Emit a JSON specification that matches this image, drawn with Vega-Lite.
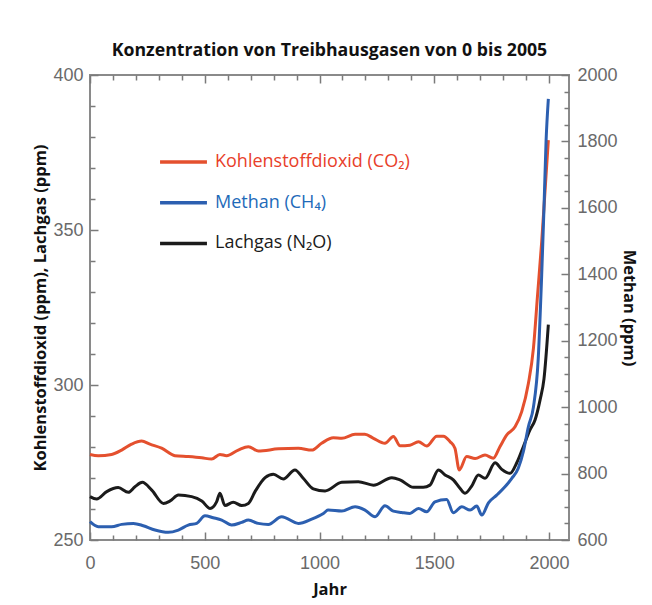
{
  "$schema": "https://vega.github.io/schema/vega-lite/v6.json",
  "width": 479,
  "height": 465,
  "autosize": {"type": "none"},
  "padding": {"left": 90, "top": 75, "right": 83, "bottom": 65},
  "background": "white",
  "title": {"text": "Konzentration von Treibhausgasen von 0 bis 2005", "font": "Open Sans", "fontSize": 17.7, "fontWeight": "bold", "color": "#111111", "anchor": "middle", "offset": 6},
  "config": {
    "view": {"stroke": "#8a8a8a", "strokeWidth": 2},
    "axis": {"domain": false, "grid": false, "format": "d", "labelFont": "Liberation Sans", "labelFontSize": 18, "labelColor": "#6a6a6a", "tickColor": "#7a7a7a", "tickWidth": 1.5, "titleFont": "Open Sans", "titleFontWeight": "bold", "titleFontSize": 16.5, "titleColor": "#111111", "labelOverlap": false}
  },
  "datasets": {
    "gases": [
      {"gas": "Kohlenstoffdioxid (CO₂)", "year": 0, "value": 277.6},
      {"gas": "Kohlenstoffdioxid (CO₂)", "year": 36, "value": 277.2},
      {"gas": "Kohlenstoffdioxid (CO₂)", "year": 94, "value": 277.6},
      {"gas": "Kohlenstoffdioxid (CO₂)", "year": 138, "value": 279.0},
      {"gas": "Kohlenstoffdioxid (CO₂)", "year": 181, "value": 280.9},
      {"gas": "Kohlenstoffdioxid (CO₂)", "year": 225, "value": 281.9},
      {"gas": "Kohlenstoffdioxid (CO₂)", "year": 261, "value": 280.9},
      {"gas": "Kohlenstoffdioxid (CO₂)", "year": 312, "value": 279.6},
      {"gas": "Kohlenstoffdioxid (CO₂)", "year": 370, "value": 277.2},
      {"gas": "Kohlenstoffdioxid (CO₂)", "year": 428, "value": 276.9},
      {"gas": "Kohlenstoffdioxid (CO₂)", "year": 487, "value": 276.5},
      {"gas": "Kohlenstoffdioxid (CO₂)", "year": 530, "value": 276.1},
      {"gas": "Kohlenstoffdioxid (CO₂)", "year": 566, "value": 277.6},
      {"gas": "Kohlenstoffdioxid (CO₂)", "year": 595, "value": 277.2},
      {"gas": "Kohlenstoffdioxid (CO₂)", "year": 646, "value": 279.0},
      {"gas": "Kohlenstoffdioxid (CO₂)", "year": 690, "value": 280.1},
      {"gas": "Kohlenstoffdioxid (CO₂)", "year": 733, "value": 278.7},
      {"gas": "Kohlenstoffdioxid (CO₂)", "year": 821, "value": 279.4},
      {"gas": "Kohlenstoffdioxid (CO₂)", "year": 908, "value": 279.6},
      {"gas": "Kohlenstoffdioxid (CO₂)", "year": 966, "value": 279.0},
      {"gas": "Kohlenstoffdioxid (CO₂)", "year": 1009, "value": 281.2},
      {"gas": "Kohlenstoffdioxid (CO₂)", "year": 1060, "value": 283.0},
      {"gas": "Kohlenstoffdioxid (CO₂)", "year": 1097, "value": 282.8},
      {"gas": "Kohlenstoffdioxid (CO₂)", "year": 1155, "value": 284.1},
      {"gas": "Kohlenstoffdioxid (CO₂)", "year": 1198, "value": 284.1},
      {"gas": "Kohlenstoffdioxid (CO₂)", "year": 1235, "value": 282.8},
      {"gas": "Kohlenstoffdioxid (CO₂)", "year": 1285, "value": 281.2},
      {"gas": "Kohlenstoffdioxid (CO₂)", "year": 1322, "value": 283.4},
      {"gas": "Kohlenstoffdioxid (CO₂)", "year": 1351, "value": 280.4},
      {"gas": "Kohlenstoffdioxid (CO₂)", "year": 1394, "value": 280.6},
      {"gas": "Kohlenstoffdioxid (CO₂)", "year": 1431, "value": 281.7},
      {"gas": "Kohlenstoffdioxid (CO₂)", "year": 1467, "value": 280.3},
      {"gas": "Kohlenstoffdioxid (CO₂)", "year": 1511, "value": 283.5},
      {"gas": "Kohlenstoffdioxid (CO₂)", "year": 1540, "value": 283.5},
      {"gas": "Kohlenstoffdioxid (CO₂)", "year": 1569, "value": 281.7},
      {"gas": "Kohlenstoffdioxid (CO₂)", "year": 1590, "value": 279.6},
      {"gas": "Kohlenstoffdioxid (CO₂)", "year": 1609, "value": 272.6},
      {"gas": "Kohlenstoffdioxid (CO₂)", "year": 1641, "value": 276.9},
      {"gas": "Kohlenstoffdioxid (CO₂)", "year": 1678, "value": 276.3},
      {"gas": "Kohlenstoffdioxid (CO₂)", "year": 1721, "value": 277.4},
      {"gas": "Kohlenstoffdioxid (CO₂)", "year": 1757, "value": 276.4},
      {"gas": "Kohlenstoffdioxid (CO₂)", "year": 1786, "value": 280.1},
      {"gas": "Kohlenstoffdioxid (CO₂)", "year": 1816, "value": 283.9},
      {"gas": "Kohlenstoffdioxid (CO₂)", "year": 1852, "value": 286.5},
      {"gas": "Kohlenstoffdioxid (CO₂)", "year": 1881, "value": 291.4},
      {"gas": "Kohlenstoffdioxid (CO₂)", "year": 1910, "value": 300.5},
      {"gas": "Kohlenstoffdioxid (CO₂)", "year": 1932, "value": 311.8},
      {"gas": "Kohlenstoffdioxid (CO₂)", "year": 1950, "value": 329.0},
      {"gas": "Kohlenstoffdioxid (CO₂)", "year": 1968, "value": 346.2},
      {"gas": "Kohlenstoffdioxid (CO₂)", "year": 1987, "value": 367.7},
      {"gas": "Kohlenstoffdioxid (CO₂)", "year": 1997, "value": 379.0},
      {"gas": "Lachgas (N₂O)", "year": 0, "value": 264.0},
      {"gas": "Lachgas (N₂O)", "year": 29, "value": 263.2},
      {"gas": "Lachgas (N₂O)", "year": 73, "value": 265.6},
      {"gas": "Lachgas (N₂O)", "year": 123, "value": 266.9},
      {"gas": "Lachgas (N₂O)", "year": 167, "value": 265.4},
      {"gas": "Lachgas (N₂O)", "year": 196, "value": 267.2},
      {"gas": "Lachgas (N₂O)", "year": 228, "value": 268.6},
      {"gas": "Lachgas (N₂O)", "year": 269, "value": 266.1},
      {"gas": "Lachgas (N₂O)", "year": 320, "value": 261.8},
      {"gas": "Lachgas (N₂O)", "year": 349, "value": 262.6},
      {"gas": "Lachgas (N₂O)", "year": 385, "value": 264.5},
      {"gas": "Lachgas (N₂O)", "year": 443, "value": 264.0},
      {"gas": "Lachgas (N₂O)", "year": 487, "value": 262.6},
      {"gas": "Lachgas (N₂O)", "year": 523, "value": 260.2},
      {"gas": "Lachgas (N₂O)", "year": 552, "value": 262.4},
      {"gas": "Lachgas (N₂O)", "year": 566, "value": 265.1},
      {"gas": "Lachgas (N₂O)", "year": 588, "value": 261.1},
      {"gas": "Lachgas (N₂O)", "year": 624, "value": 262.2},
      {"gas": "Lachgas (N₂O)", "year": 661, "value": 261.1},
      {"gas": "Lachgas (N₂O)", "year": 690, "value": 261.8},
      {"gas": "Lachgas (N₂O)", "year": 719, "value": 265.6},
      {"gas": "Lachgas (N₂O)", "year": 763, "value": 270.1},
      {"gas": "Lachgas (N₂O)", "year": 799, "value": 271.2},
      {"gas": "Lachgas (N₂O)", "year": 842, "value": 269.7},
      {"gas": "Lachgas (N₂O)", "year": 893, "value": 272.6},
      {"gas": "Lachgas (N₂O)", "year": 929, "value": 269.9},
      {"gas": "Lachgas (N₂O)", "year": 973, "value": 266.5},
      {"gas": "Lachgas (N₂O)", "year": 1024, "value": 265.8},
      {"gas": "Lachgas (N₂O)", "year": 1097, "value": 268.6},
      {"gas": "Lachgas (N₂O)", "year": 1169, "value": 268.8},
      {"gas": "Lachgas (N₂O)", "year": 1235, "value": 267.7},
      {"gas": "Lachgas (N₂O)", "year": 1315, "value": 270.1},
      {"gas": "Lachgas (N₂O)", "year": 1351, "value": 269.4},
      {"gas": "Lachgas (N₂O)", "year": 1409, "value": 267.0},
      {"gas": "Lachgas (N₂O)", "year": 1452, "value": 267.0},
      {"gas": "Lachgas (N₂O)", "year": 1481, "value": 267.7},
      {"gas": "Lachgas (N₂O)", "year": 1518, "value": 272.6},
      {"gas": "Lachgas (N₂O)", "year": 1547, "value": 271.0},
      {"gas": "Lachgas (N₂O)", "year": 1583, "value": 269.4},
      {"gas": "Lachgas (N₂O)", "year": 1612, "value": 266.7},
      {"gas": "Lachgas (N₂O)", "year": 1634, "value": 265.1},
      {"gas": "Lachgas (N₂O)", "year": 1663, "value": 267.4},
      {"gas": "Lachgas (N₂O)", "year": 1692, "value": 271.0},
      {"gas": "Lachgas (N₂O)", "year": 1721, "value": 269.9},
      {"gas": "Lachgas (N₂O)", "year": 1765, "value": 274.9},
      {"gas": "Lachgas (N₂O)", "year": 1794, "value": 272.8},
      {"gas": "Lachgas (N₂O)", "year": 1830, "value": 271.5},
      {"gas": "Lachgas (N₂O)", "year": 1860, "value": 275.0},
      {"gas": "Lachgas (N₂O)", "year": 1888, "value": 280.1},
      {"gas": "Lachgas (N₂O)", "year": 1917, "value": 285.5},
      {"gas": "Lachgas (N₂O)", "year": 1939, "value": 288.7},
      {"gas": "Lachgas (N₂O)", "year": 1961, "value": 295.2},
      {"gas": "Lachgas (N₂O)", "year": 1978, "value": 302.0},
      {"gas": "Lachgas (N₂O)", "year": 1997, "value": 319.5},
      {"gas": "Methan (CH₄)", "year": 0, "value": 655},
      {"gas": "Methan (CH₄)", "year": 36, "value": 640},
      {"gas": "Methan (CH₄)", "year": 94, "value": 640},
      {"gas": "Methan (CH₄)", "year": 138, "value": 647},
      {"gas": "Methan (CH₄)", "year": 189, "value": 650},
      {"gas": "Methan (CH₄)", "year": 232, "value": 643},
      {"gas": "Methan (CH₄)", "year": 283, "value": 630},
      {"gas": "Methan (CH₄)", "year": 341, "value": 623},
      {"gas": "Methan (CH₄)", "year": 385, "value": 630},
      {"gas": "Methan (CH₄)", "year": 428, "value": 645},
      {"gas": "Methan (CH₄)", "year": 465, "value": 650},
      {"gas": "Methan (CH₄)", "year": 501, "value": 673},
      {"gas": "Methan (CH₄)", "year": 537, "value": 667},
      {"gas": "Methan (CH₄)", "year": 574, "value": 660},
      {"gas": "Methan (CH₄)", "year": 617, "value": 645},
      {"gas": "Methan (CH₄)", "year": 661, "value": 653},
      {"gas": "Methan (CH₄)", "year": 690, "value": 660},
      {"gas": "Methan (CH₄)", "year": 733, "value": 650},
      {"gas": "Methan (CH₄)", "year": 777, "value": 647},
      {"gas": "Methan (CH₄)", "year": 835, "value": 670},
      {"gas": "Methan (CH₄)", "year": 908, "value": 650},
      {"gas": "Methan (CH₄)", "year": 966, "value": 663},
      {"gas": "Methan (CH₄)", "year": 1017, "value": 680},
      {"gas": "Methan (CH₄)", "year": 1038, "value": 690},
      {"gas": "Methan (CH₄)", "year": 1097, "value": 687},
      {"gas": "Methan (CH₄)", "year": 1155, "value": 700},
      {"gas": "Methan (CH₄)", "year": 1198, "value": 690},
      {"gas": "Methan (CH₄)", "year": 1242, "value": 670},
      {"gas": "Methan (CH₄)", "year": 1285, "value": 703},
      {"gas": "Methan (CH₄)", "year": 1322, "value": 687},
      {"gas": "Methan (CH₄)", "year": 1358, "value": 683},
      {"gas": "Methan (CH₄)", "year": 1394, "value": 680},
      {"gas": "Methan (CH₄)", "year": 1431, "value": 695},
      {"gas": "Methan (CH₄)", "year": 1467, "value": 685},
      {"gas": "Methan (CH₄)", "year": 1503, "value": 715},
      {"gas": "Methan (CH₄)", "year": 1554, "value": 722},
      {"gas": "Methan (CH₄)", "year": 1583, "value": 682},
      {"gas": "Methan (CH₄)", "year": 1620, "value": 700},
      {"gas": "Methan (CH₄)", "year": 1656, "value": 690},
      {"gas": "Methan (CH₄)", "year": 1685, "value": 702},
      {"gas": "Methan (CH₄)", "year": 1707, "value": 675},
      {"gas": "Methan (CH₄)", "year": 1736, "value": 712},
      {"gas": "Methan (CH₄)", "year": 1772, "value": 735},
      {"gas": "Methan (CH₄)", "year": 1808, "value": 760},
      {"gas": "Methan (CH₄)", "year": 1837, "value": 785},
      {"gas": "Methan (CH₄)", "year": 1866, "value": 816},
      {"gas": "Methan (CH₄)", "year": 1888, "value": 866},
      {"gas": "Methan (CH₄)", "year": 1910, "value": 941},
      {"gas": "Methan (CH₄)", "year": 1932, "value": 1000},
      {"gas": "Methan (CH₄)", "year": 1953, "value": 1147},
      {"gas": "Methan (CH₄)", "year": 1968, "value": 1398},
      {"gas": "Methan (CH₄)", "year": 1978, "value": 1599},
      {"gas": "Methan (CH₄)", "year": 1987, "value": 1799},
      {"gas": "Methan (CH₄)", "year": 1997, "value": 1928}
    ]
  },
  "data": {"name": "gases"},
  "layer": [
    {
      "transform": [{"filter": "datum.gas !== 'Methan (CH₄)'"}],
      "mark": {"type": "line", "strokeWidth": 3, "interpolate": "monotone"},
      "encoding": {
        "x": {
          "field": "year", "type": "quantitative",
          "scale": {"domain": [0, 2087], "nice": false},
          "axis": {
            "orient": "bottom",
            "values": [0,100,200,300,400,500,600,700,800,900,1000,1100,1200,1300,1400,1500,1600,1700,1800,1900,2000],
            "labelExpr": "datum.value % 500 === 0 ? datum.label : ''",
            "tickSize": {"condition": {"test": "datum.value % 500 === 0", "value": -8}, "value": -5},
            "labelPadding": 22,
            "labelFlush": false,
            "title": "Jahr",
            "titlePadding": 6
          }
        },
        "y": {
          "field": "value", "type": "quantitative",
          "scale": {"domain": [250, 400], "nice": false, "zero": false},
          "axis": {
            "orient": "left",
            "values": [250,260,270,280,290,300,310,320,330,340,350,360,370,380,390,400],
            "labelExpr": "datum.value % 50 === 0 ? datum.label : ''",
            "tickSize": {"condition": {"test": "datum.value % 50 === 0", "value": -8}, "value": -5},
            "labelPadding": 15,
            "title": "Kohlenstoffdioxid (ppm), Lachgas (ppm)",
            "titlePadding": 4
          }
        },
        "color": {
          "field": "gas", "type": "nominal",
          "scale": {"domain": ["Kohlenstoffdioxid (CO₂)", "Methan (CH₄)", "Lachgas (N₂O)"], "range": ["#e4502e", "#2c5fb0", "#1b1b1b"]},
          "legend": {
            "orient": "none", "legendX": 68, "legendY": 77, "title": null,
            "symbolType": "stroke", "symbolStrokeWidth": 3.5, "symbolSize": 2200,
            "clipHeight": 20, "labelLimit": 400,
            "labelFont": "Open Sans", "labelFontSize": 18, "labelOffset": 6, "rowPadding": 20.7,
            "encode": {"labels": {"update": {"fill": {"signal": "datum.value === 'Methan (CH₄)' ? '#1e6ab9' : (datum.value === 'Lachgas (N₂O)' ? '#1b1b1b' : '#e8402a')"}}}}
          }
        }
      }
    },
    {
      "transform": [{"filter": "datum.gas === 'Methan (CH₄)'"}],
      "mark": {"type": "line", "strokeWidth": 3, "interpolate": "monotone"},
      "encoding": {
        "x": {
          "field": "year", "type": "quantitative",
          "scale": {"domain": [0, 2087], "nice": false},
          "axis": {
            "orient": "top",
            "values": [0,100,200,300,400,500,600,700,800,900,1000,1100,1200,1300,1400,1500,1600,1700,1800,1900,2000],
            "labels": false,
            "tickSize": {"condition": {"test": "datum.value % 500 === 0", "value": -8}, "value": -5},
            "title": null
          }
        },
        "y": {
          "field": "value", "type": "quantitative",
          "scale": {"domain": [600, 2000], "nice": false, "zero": false},
          "axis": {
            "orient": "right",
            "values": [600,650,700,750,800,850,900,950,1000,1050,1100,1150,1200,1250,1300,1350,1400,1450,1500,1550,1600,1650,1700,1750,1800,1850,1900,1950,2000],
            "labelExpr": "datum.value % 200 === 0 ? datum.label : ''",
            "tickSize": {"condition": {"test": "datum.value % 200 === 0", "value": -8}, "value": -5},
            "labelPadding": 16,
            "title": "Methan (ppm)",
            "titlePadding": 3
          }
        },
        "color": {"field": "gas", "type": "nominal"}
      }
    }
  ],
  "resolve": {"scale": {"y": "independent"}, "axis": {"x": "independent"}}
}
